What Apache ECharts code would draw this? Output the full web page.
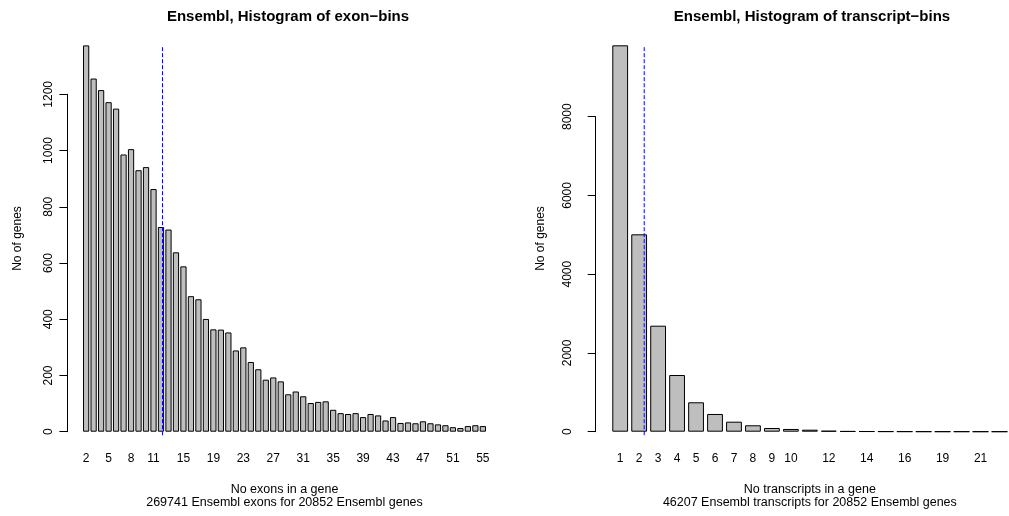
<!DOCTYPE html>
<html>
<head>
<meta charset="utf-8">
<title>Ensembl histograms</title>
<script src="https://cdn.jsdelivr.net/npm/echarts@6/dist/echarts.min.js"></script>
<style>
  html, body { margin: 0; padding: 0; background: #fff; }
  #chart { width: 1009px; height: 516px; }
</style>
</head>
<body>
<div id="chart"></div>
<script>
// exon bins: number of exons per gene (2..55) and gene counts
const exonBins = ['2','3','4','5','6','7','8','9','10','11','12','13','14','15','16','17','18','19','20',
  '21','22','23','24','25','26','27','28','29','30','31','32','33','34','35','36','37','38','39','40',
  '41','42','43','44','45','46','47','48','49','50','51','52','53','54','55'];
const exonCounts = [1374, 1256, 1215, 1172, 1149, 986, 1005, 930, 941, 863, 728, 719, 638, 588, 482, 471,
  401, 364, 363, 353, 289, 300, 248, 222, 185, 193, 179, 133, 143, 126, 102, 106, 108, 78, 66, 63, 66,
  52, 63, 58, 40, 52, 31, 33, 30, 37, 30, 26, 23, 16, 13, 20, 23, 20];
const exonTickLabels = ['2','5','8','11','15','19','23','27','31','35','39','43','47','51','55'];

// transcript bins
const transcriptBins = ['1','2','3','4','5','6','7','8','9','10','11','12','13','14','15','16','17',
  '19','20','21','23'];
const transcriptCounts = [9813, 5013, 2692, 1440, 747, 450, 254, 163, 94, 69, 51, 25, 14, 9, 6, 4, 3,
  2, 2, 1, 1];
const transcriptTickLabels = ['1','2','3','4','5','6','7','8','9','10','12','14','16','19','21'];

// mean (dashed blue line), in barplot units
const meanExons = 12.94;
const meanTranscripts = 2.22;

const FONT = '"Liberation Sans", Arial, sans-serif';

const chart = echarts.init(document.getElementById('chart'));

function yAxisCfg(gridIndex, max, interval, margin) {
  return {
    type: 'value',
    gridIndex: gridIndex,
    min: 0,
    max: max,
    interval: interval,
    offset: 15,
    axisLine: { show: true, lineStyle: { color: '#000', width: 1 } },
    axisTick: { show: true, length: 8, lineStyle: { color: '#000' } },
    axisLabel: {
      rotate: 90,
      margin: margin,
      color: '#000',
      fontSize: 12,
      fontFamily: FONT,
      formatter: (v) => String(v)
    },
    splitLine: { show: false }
  };
}

function catAxisCfg(gridIndex, data, ticks, name) {
  return {
    type: 'category',
    gridIndex: gridIndex,
    data: data,
    axisLine: { show: false },
    axisTick: { show: false },
    axisLabel: {
      interval: (i, v) => ticks.includes(v),
      margin: 21,
      color: '#000',
      fontSize: 12,
      fontFamily: FONT
    },
    name: name,
    nameLocation: 'middle',
    nameGap: 52,
    nameTextStyle: { color: '#000', fontSize: 12.5, fontFamily: FONT, lineHeight: 12.5 }
  };
}

function barSeries(idx, data) {
  return {
    type: 'bar',
    xAxisIndex: idx * 2,
    yAxisIndex: idx,
    data: data,
    barCategoryGap: '16.7%',
    clip: false,
    silent: true,
    itemStyle: { color: '#BEBEBE', borderColor: '#000', borderWidth: 1 }
  };
}

function meanLine(idx, x, top) {
  return {
    type: 'line',
    xAxisIndex: idx * 2 + 1,
    yAxisIndex: idx,
    data: [[x, -top * 0.009], [x, top]],
    symbol: 'none',
    clip: false,
    silent: true,
    z: 5,
    lineStyle: { color: '#0000FF', width: 1, type: [4, 2] }
  };
}

function label(text, x, y, font, rotation) {
  return {
    type: 'text', x: x, y: y, rotation: rotation || 0,
    style: { text: text, font: font, fill: '#000', align: 'center', verticalAlign: 'middle',
      textAlign: 'center', textVerticalAlign: 'middle' }
  };
}

chart.setOption({
  animation: false,
  grid: [
    { left: 82.4, top: 94.3, width: 404.2, height: 337.4 },
    { left: 610.7, top: 116.7, width: 403.2, height: 315 }
  ],
  xAxis: [
    catAxisCfg(0, exonBins, exonTickLabels,
      'No exons in a gene\n269741 Ensembl exons for 20852 Ensembl genes'),
    { type: 'value', gridIndex: 0, min: 0.1, max: 0.1 + exonBins.length * 1.2, show: false },
    catAxisCfg(1, transcriptBins, transcriptTickLabels,
      'No transcripts in a gene\n46207 Ensembl transcripts for 20852 Ensembl genes'),
    { type: 'value', gridIndex: 1, min: 0.1, max: 0.1 + transcriptBins.length * 1.2, show: false }
  ],
  yAxis: [
    yAxisCfg(0, 1200, 200, 13),
    yAxisCfg(1, 8000, 2000, 22)
  ],
  series: [
    barSeries(0, exonCounts),
    meanLine(0, meanExons, Math.max(...exonCounts)),
    barSeries(1, transcriptCounts),
    meanLine(1, meanTranscripts, Math.max(...transcriptCounts))
  ],
  graphic: [
    label('Ensembl, Histogram of exon\u2212bins', 288, 17, 'bold 15px ' + FONT),
    label('Ensembl, Histogram of transcript\u2212bins', 812, 17, 'bold 15px ' + FONT),
    label('No of genes', 18, 238.5, '12px ' + FONT, Math.PI / 2),
    label('No of genes', 541, 238.5, '12px ' + FONT, Math.PI / 2)
  ]
});

window.addEventListener('resize', () => {
  chart.resize();
});
</script>
</body>
</html>
